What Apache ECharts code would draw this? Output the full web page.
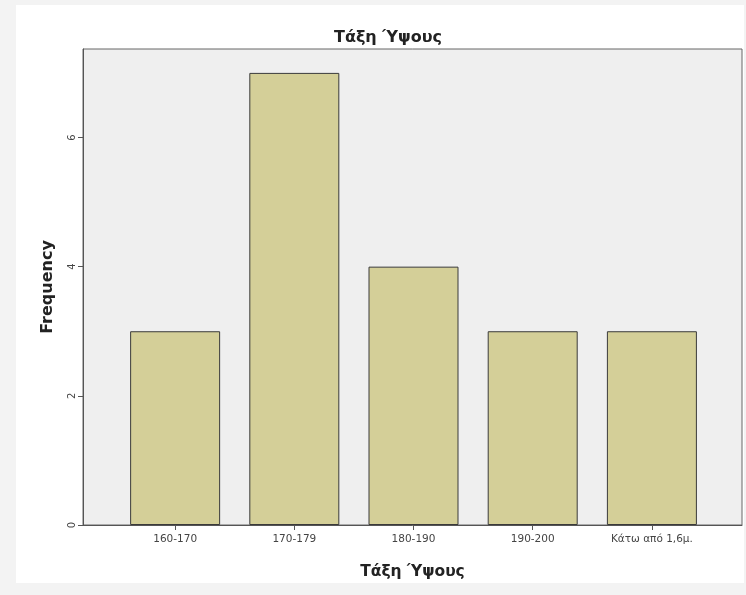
<!DOCTYPE html>
<html>
<head>
<meta charset="utf-8">
<script src="https://cdn.jsdelivr.net/npm/echarts@6/dist/echarts.min.js"></script>
<style>
html,body{margin:0;padding:0;background:#f3f3f3;}
#chart{width:746px;height:595px;}
</style>
</head>
<body>
<div id="chart"></div>
<script>
const titleText = 'Τάξη Ύψους';
const xAxisTitle = 'Τάξη Ύψους';
const yAxisTitle = 'Frequency';
const categories = ['160-170', '170-179', '180-190', '190-200', 'Κάτω από 1,6μ.'];
const frequencies = [3, 7, 4, 3, 3];
const yTicks = [0, 2, 4, 6];

const chart = echarts.init(document.getElementById('chart'), null, {renderer: 'canvas'});
const catIndex = categories.map((c, i) => i);
const FONT = 'DejaVu Sans, Verdana, sans-serif';

chart.setOption({
  backgroundColor: '#f3f3f3',
  animation: false,
  graphic: [{
    type: 'rect', z: -10, silent: true,
    shape: {x: 16, y: 5, width: 728, height: 578},
    style: {fill: '#ffffff'}
  }],
  title: {
    text: titleText,
    left: 383, top: 25, textAlign: 'center',
    textStyle: {fontFamily: FONT, fontSize: 16, fontWeight: 'bold', color: '#222'}
  },
  grid: {
    left: 83, top: 49, right: 4, bottom: 70,
    show: true, backgroundColor: '#efefef', borderColor: '#666', borderWidth: 1
  },
  xAxis: {
    type: 'value',
    min: -0.773, max: 4.756,
    name: xAxisTitle, nameLocation: 'middle', nameGap: 39,
    nameTextStyle: {fontFamily: FONT, fontSize: 15.5, fontWeight: 'bold', color: '#222'},
    splitLine: {show: false},
    axisLine: {show: true, onZero: false, lineStyle: {color: '#555', width: 1}},
    axisTick: {show: true, length: 5, lineStyle: {color: '#555'}, customValues: catIndex},
    axisLabel: {
      customValues: catIndex, margin: 9,
      fontFamily: FONT, fontSize: 10.5, color: '#444',
      formatter: v => categories[Math.round(v)]
    }
  },
  yAxis: {
    type: 'value',
    min: 0, max: 7.37,
    name: yAxisTitle, nameLocation: 'middle', nameGap: 27,
    nameTextStyle: {fontFamily: FONT, fontSize: 16, fontWeight: 'bold', color: '#222'},
    splitLine: {show: false},
    axisLine: {show: true, onZero: false, lineStyle: {color: '#555', width: 1}},
    axisTick: {show: true, length: 5, lineStyle: {color: '#555'}, customValues: yTicks},
    axisLabel: {
      customValues: yTicks, rotate: 90, margin: 6,
      fontFamily: FONT, fontSize: 10, color: '#444'
    }
  },
  series: [{
    type: 'bar',
    barWidth: 90,
    data: frequencies.map((v, i) => [i, v]),
    itemStyle: {color: '#d4cf98', borderColor: '#3a3a3a', borderWidth: 1}
  }]
});
</script>
</body>
</html>
